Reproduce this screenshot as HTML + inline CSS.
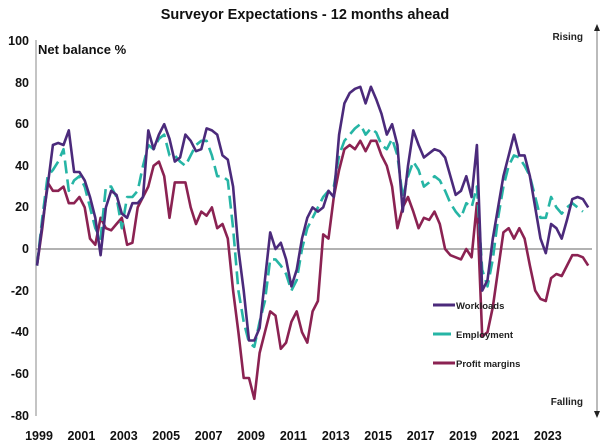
<!DOCTYPE html>
<html><head><meta charset="utf-8"><style>
body{margin:0;background:#fff;}
svg{display:block;font-family:"Liberation Sans",Arial,sans-serif;}
</style></head><body>
<svg id="c" width="610" height="447" viewBox="0 0 610 447">
<text x="305" y="19" text-anchor="middle" font-size="14.5" font-weight="bold" fill="#111">Surveyor Expectations - 12 months ahead</text>
<text x="38" y="54" font-size="13" font-weight="bold" fill="#111">Net balance %</text>
<line x1="36" y1="40" x2="36" y2="416" stroke="#888" stroke-width="1"/>
<line x1="36" y1="249" x2="592" y2="249" stroke="#666" stroke-width="1"/>
<line x1="597" y1="30" x2="597" y2="412" stroke="#777" stroke-width="1"/>
<polygon points="594,31 600,31 597,24" fill="#222"/>
<polygon points="594,411 600,411 597,418" fill="#222"/>
<text x="583" y="40" text-anchor="end" font-size="10" font-weight="bold" fill="#222">Rising</text>
<text x="583" y="405" text-anchor="end" font-size="10" font-weight="bold" fill="#222">Falling</text>
<g font-size="12.5" font-weight="bold" fill="#111" text-anchor="end">
<text x="29" y="45">100</text><text x="29" y="87">80</text><text x="29" y="128">60</text><text x="29" y="170">40</text><text x="29" y="211">20</text><text x="29" y="253">0</text><text x="29" y="295">-20</text><text x="29" y="336">-40</text><text x="29" y="378">-60</text><text x="29" y="420">-80</text>
</g>
<g id="xl" font-size="12.5" font-weight="bold" fill="#111" text-anchor="middle"></g>
<g id="lines"></g>
<g font-size="9.5" font-weight="bold" fill="#222">
<line x1="433" y1="305" x2="455" y2="305" stroke="#4b2a7b" stroke-width="3"/>
<text x="456" y="309">Workloads</text>
<line x1="433" y1="334" x2="451" y2="334" stroke="#26b5a5" stroke-width="3"/>
<text x="456" y="338">Employment</text>
<line x1="433" y1="363" x2="455" y2="363" stroke="#8b2252" stroke-width="3"/>
<text x="456" y="367">Profit margins</text>
</g>
</svg>
<script>
var W=[-8,12,30,50,51,50,57,37,37,33,25,15,-3,20,28,26,17,15,22,22,25,57,48,55,60,53,42,44,55,52,47,48,58,57,55,45,43,30,0,-20,-44,-44,-38,-15,8,0,3,-5,-18,-10,5,15,20,18,20,28,25,55,70,75,77,78,70,78,72,65,55,60,50,18,40,57,50,44,46,48,47,44,35,26,28,35,25,50,-20,-15,5,20,35,45,55,45,45,35,20,5,-2,12,10,5,14,24,25,24,20];
var E=[-8,15,35,38,42,48,28,33,35,30,20,10,5,30,30,25,10,25,25,28,40,50,48,53,55,45,45,42,40,45,50,52,52,45,35,35,33,10,-20,-35,-45,-47,-35,-25,-5,-5,-8,-12,-20,-15,0,10,15,20,25,28,30,45,52,55,58,60,55,58,56,50,48,53,45,25,35,42,38,30,32,35,33,28,22,18,15,22,20,30,-10,-18,-5,15,30,40,45,44,40,35,25,15,15,25,20,17,20,22,20,18];
var P=[-8,10,32,28,28,30,22,22,25,20,5,2,15,10,9,12,15,2,3,20,25,30,40,42,35,15,32,32,32,20,12,18,16,20,10,12,5,-20,-40,-62,-62,-72,-50,-40,-30,-32,-48,-45,-35,-30,-40,-45,-30,-25,7,5,25,38,48,50,48,52,47,52,52,45,40,30,10,20,25,18,10,15,14,18,12,0,-3,-4,-5,0,-4,22,-42,-40,-28,-10,8,10,5,10,5,-8,-20,-24,-25,-14,-12,-13,-8,-3,-3,-4,-8];
function pts(a){return a.map(function(v,i){return (37+i*5.3).toFixed(1)+","+(249-v*2.08).toFixed(1)}).join(" ")}
var g=document.getElementById("lines"),ns="http://www.w3.org/2000/svg";
function add(a,c,d){var p=document.createElementNS(ns,"polyline");p.setAttribute("points",pts(a));p.setAttribute("fill","none");p.setAttribute("stroke",c);p.setAttribute("stroke-width","2.6");p.setAttribute("stroke-linejoin","round");if(d)p.setAttribute("stroke-dasharray",d);g.appendChild(p);}
add(P,"#8b2252");add(E,"#26b5a5","13,6");add(W,"#4b2a7b");
var xl=document.getElementById("xl");
for(var y=1999;y<=2023;y+=2){var t=document.createElementNS(ns,"text");t.setAttribute("x",(39+(y-1999)*21.2).toFixed(1));t.setAttribute("y","440");t.textContent=y;xl.appendChild(t);}
</script>
</body></html>
